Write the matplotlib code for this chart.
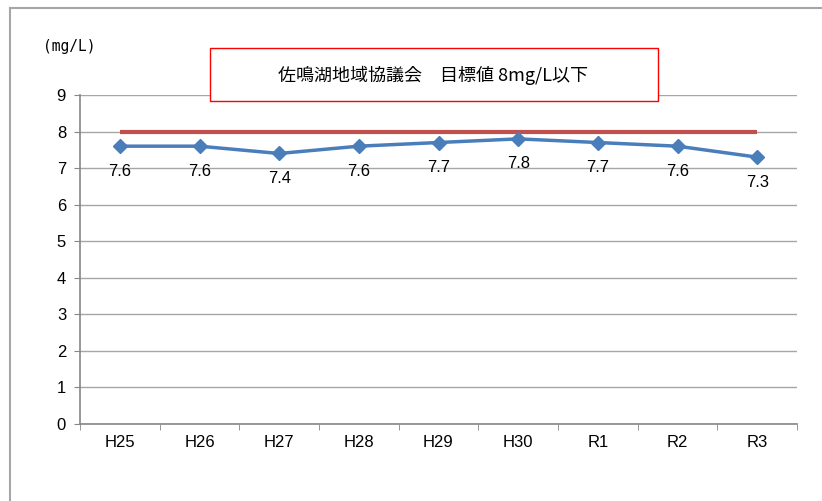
import matplotlib
matplotlib.use("Agg")
import matplotlib.pyplot as plt
from matplotlib.patches import Rectangle
from matplotlib.lines import Line2D

years = ["H25", "H26", "H27", "H28", "H29", "H30", "R1", "R2", "R3"]
values = [7.6, 7.6, 7.4, 7.6, 7.7, 7.8, 7.7, 7.6, 7.3]
target = [8, 8, 8, 8, 8, 8, 8, 8, 8]

plt.rcParams['font.family'] = ['Liberation Sans', 'DejaVu Sans']

fig = plt.figure(figsize=(8.22, 5.01), dpi=100)
ax = fig.add_axes([80 / 822, 77 / 501, 717 / 822, 329 / 501])

x = list(range(len(years)))
ax.plot(x, target, color="#c0504d", linewidth=3, solid_capstyle="butt", zorder=3)
ax.plot(x, values, color="#4a7ebb", linewidth=2.5, marker="D", markersize=7, zorder=4)
for xi, v in zip(x, values):
    ax.annotate(f"{v}", (xi, v), xytext=(0, -18), textcoords="offset points",
                ha="center", va="center", fontsize=12, color="#000000")

ax.set_xlim(-0.5, len(years) - 0.5)
ax.set_ylim(0, 9)
ax.set_yticks(range(10))
ax.set_xticks(x)
ax.set_xticklabels(years)
ax.set_xticks([i - 0.5 for i in range(len(years) + 1)], minor=True)
ax.tick_params(axis="x", which="major", length=0, pad=8, labelsize=12)
ax.tick_params(axis="x", which="minor", length=4, color="#868686", direction="out")
ax.tick_params(axis="y", length=4, color="#868686", direction="out", labelsize=12, pad=6)
ax.grid(axis="y", color="#a6a6a6", linewidth=1)
ax.set_axisbelow(True)
for s in ["top", "right"]:
    ax.spines[s].set_visible(False)
for s in ["left", "bottom"]:
    ax.spines[s].set_color("#868686")
    ax.spines[s].set_linewidth(1.2)

# unit label
fig.text(69 / 822, 1 - 47 / 501, "(mg/L)", ha="center", va="center", fontsize=10.5,
         family=["DejaVu Sans Mono", "DejaVu Sans"])

# title box
fig.patches.append(Rectangle((210 / 822, 1 - 101 / 501), 448 / 822, 53 / 501,
                             transform=fig.transFigure, facecolor="white",
                             edgecolor="#ff0000", linewidth=1, zorder=5))
fig.text(433 / 822, 1 - 75 / 501, "佐鳴湖地域協議会　目標値 8mg/L以下", ha="center", va="center",
         fontsize=13, family=["Noto Sans CJK JP", "DejaVu Sans"], zorder=6)

# outer chart border (left and top)
fig.add_artist(Line2D([9.5 / 822, 9.5 / 822], [0, 1 - 8 / 501], transform=fig.transFigure,
                      color="#a6a6a6", linewidth=1.5))
fig.add_artist(Line2D([9.5 / 822, 1], [1 - 8 / 501, 1 - 8 / 501], transform=fig.transFigure,
                      color="#a6a6a6", linewidth=1.5))

fig.savefig("out.png", dpi=100)
